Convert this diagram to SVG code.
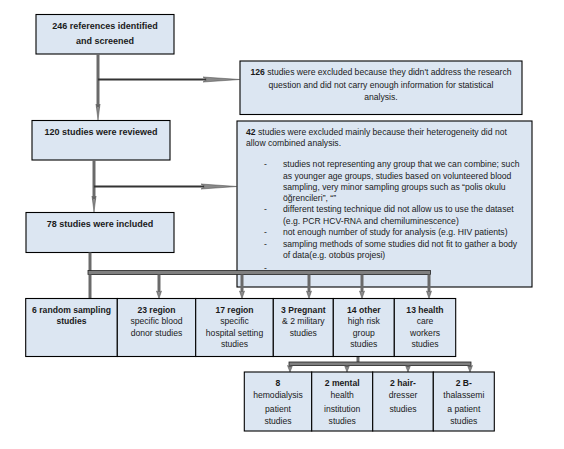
<svg xmlns="http://www.w3.org/2000/svg" width="564" height="449" viewBox="0 0 564 449">
<style>
.box{fill:#DCE6F2;stroke:#000;stroke-width:1.1}
.t{font-family:"Liberation Sans",Arial,sans-serif;font-size:8.6px;fill:#1a1a1a}
.c{text-anchor:middle}
.b{font-weight:bold}
.h{font-family:"Liberation Sans",Arial,sans-serif;font-size:9px;font-weight:bold;fill:#1a1a1a;text-anchor:middle}
.v{stroke:#6a6a6a;stroke-width:3;fill:none}
.hz{stroke:#333;stroke-width:2;fill:none}
.ah{fill:#8a8a8a;stroke:#444;stroke-width:0.5}
.bar{fill:#808080;stroke:#222;stroke-width:0.8}
</style>
<rect width="564" height="449" fill="#fff"/>
<g id="n1"><rect class="box" x="36" y="14.5" width="138" height="39.5"/>
<text class="h" x="105" y="28.5">246 references identified</text>
<text class="h" x="105" y="43.5">and screened</text></g>
<g id="n126"><rect class="box" x="240" y="61" width="282" height="53.5"/>
<text class="t c" x="381" y="75"><tspan class="b">126</tspan> studies were excluded because they didn't address the research</text>
<text class="t c" x="381" y="87.5">question and did not carry enough information for statistical</text>
<text class="t c" x="381" y="100">analysis.</text></g>
<g id="n120"><rect class="box" x="32" y="120.5" width="138" height="39.5"/>
<text class="h" x="101" y="135">120 studies were reviewed</text></g>
<g id="n42"><rect class="box" x="237" y="121" width="295" height="166"/>
<text class="t" x="246" y="135"><tspan class="b">42</tspan> studies were  excluded mainly because their heterogeneity did not</text>
<text class="t" x="246" y="145.5">allow combined analysis.</text>
<text class="t" x="264" y="167">-</text>
<text class="t" x="283" y="167">studies not representing any group that we can combine; such</text>
<text class="t" x="283" y="179">as younger age groups, studies based on volunteered blood</text>
<text class="t" x="283" y="190">sampling, very minor sampling groups such as “polis okulu</text>
<text class="t" x="283" y="201">öğrencileri”, “”</text>
<text class="t" x="264" y="212">-</text>
<text class="t" x="283" y="212">different testing technique did not allow us to use the dataset</text>
<text class="t" x="283" y="223.5">(e.g. PCR HCV-RNA and chemiluminescence)</text>
<text class="t" x="264" y="235">-</text>
<text class="t" x="283" y="235">not enough number of study for analysis (e.g. HIV patients)</text>
<text class="t" x="264" y="246.5">-</text>
<text class="t" x="283" y="246.5">sampling methods of some studies did not fit to gather a body</text>
<text class="t" x="283" y="258">of data(e.g. otobüs projesi)</text>
<text class="t" x="264" y="271">-</text></g>
<g id="n78"><rect class="box" x="26" y="212.5" width="148" height="40"/>
<text class="h" x="100" y="226.5">78 studies were included</text></g>
<g id="connectors">
<line class="v" x1="98" y1="54" x2="98" y2="108"/>
<polygon class="ah" points="98,120 96,104 98,107 100,104"/>
<line class="hz" x1="98" y1="79.5" x2="206" y2="79.5"/>
<polygon class="ah" points="240,79.5 203,77 207,79.5 203,82"/>
<line class="v" x1="94" y1="160" x2="94" y2="200"/>
<polygon class="ah" points="94,212 92,196 94,199 96,196"/>
<line class="hz" x1="94" y1="186.5" x2="204" y2="186.5"/>
<polygon class="ah" points="237,186.5 201,184 205,186.5 201,189"/>
<line class="v" x1="90" y1="252.5" x2="90" y2="271"/>
<rect class="bar" x="88" y="270.5" width="342.5" height="4"/>
<line class="v" x1="90" y1="274.5" x2="90" y2="298.5"/>
<line class="v" x1="159" y1="274.5" x2="159" y2="292"/>
<polygon class="ah" points="159,298.5 156.5,291 159,293 161.5,291"/>
<line class="v" x1="242" y1="274.5" x2="242" y2="292"/>
<polygon class="ah" points="242,298.5 239.5,291 242,293 244.5,291"/>
<line class="v" x1="309" y1="274.5" x2="309" y2="292"/>
<polygon class="ah" points="309,298.5 306.5,291 309,293 311.5,291"/>
<line class="v" x1="362" y1="274.5" x2="362" y2="292"/>
<polygon class="ah" points="362,298.5 359.5,291 362,293 364.5,291"/>
<line class="v" x1="429" y1="274.5" x2="429" y2="292"/>
<polygon class="ah" points="429,298.5 426.5,291 429,293 431.5,291"/>
<line class="v" x1="358" y1="356.5" x2="358" y2="362.5"/>
<rect class="bar" x="289" y="362" width="182" height="3.5"/>
<line class="v" x1="290" y1="365.5" x2="290" y2="367"/>
<polygon class="ah" points="290,372 287.5,365.5 290,367 292.5,365.5"/>
<line class="v" x1="347" y1="365.5" x2="347" y2="367"/>
<polygon class="ah" points="347,372 344.5,365.5 347,367 349.5,365.5"/>
<line class="v" x1="408" y1="365.5" x2="408" y2="367"/>
<polygon class="ah" points="408,372 405.5,365.5 408,367 410.5,365.5"/>
<line class="v" x1="470" y1="365.5" x2="470" y2="367"/>
<polygon class="ah" points="470,372 467.5,365.5 470,367 472.5,365.5"/>
</g>
<g id="r1"><rect class="box" x="25.7" y="298.5" width="91.6" height="58"/>
<text class="t c b" x="71.5" y="312.5">6 random sampling</text>
<text class="t c b" x="71.5" y="324">studies</text></g>
<g id="r2"><rect class="box" x="117.3" y="298.5" width="78.4" height="58"/>
<text class="t c b" x="156.5" y="312.5">23 region</text>
<text class="t c" x="156.5" y="324">specific blood</text>
<text class="t c" x="156.5" y="335.5">donor studies</text></g>
<g id="r3"><rect class="box" x="195.7" y="298.5" width="77.6" height="58"/>
<text class="t c b" x="234.5" y="312.5">17 region</text>
<text class="t c" x="234.5" y="324">specific</text>
<text class="t c" x="234.5" y="335.5">hospital setting</text>
<text class="t c" x="234.5" y="347">studies</text></g>
<g id="r4"><rect class="box" x="273.3" y="298.5" width="60" height="58"/>
<text class="t c b" x="303.3" y="312.5">3 Pregnant</text>
<text class="t c" x="303.3" y="324">&amp; 2 military</text>
<text class="t c" x="303.3" y="335.5">studies</text></g>
<g id="r5"><rect class="box" x="333.3" y="298.5" width="61" height="58"/>
<text class="t c b" x="363.8" y="312.5">14 other</text>
<text class="t c" x="363.8" y="324">high risk</text>
<text class="t c" x="363.8" y="335.5">group</text>
<text class="t c" x="363.8" y="347">studies</text></g>
<g id="r6"><rect class="box" x="394.3" y="298.5" width="61.4" height="58"/>
<text class="t c b" x="425" y="312.5">13 health</text>
<text class="t c" x="425" y="324">care</text>
<text class="t c" x="425" y="335.5">workers</text>
<text class="t c" x="425" y="347">studies</text></g>
<g id="s1"><rect class="box" x="244.3" y="372" width="67.4" height="59"/>
<text class="t c b" x="278" y="385.5">8</text>
<text class="t c" x="278" y="398">hemodialysis</text>
<text class="t c" x="278" y="411.5">patient</text>
<text class="t c" x="278" y="424">studies</text></g>
<g id="s2"><rect class="box" x="311.7" y="372" width="61" height="59"/>
<text class="t c b" x="342.2" y="385.5">2 mental</text>
<text class="t c" x="342.2" y="398">health</text>
<text class="t c" x="342.2" y="411.5">institution</text>
<text class="t c" x="342.2" y="424">studies</text></g>
<g id="s3"><rect class="box" x="372.7" y="372" width="60.6" height="59"/>
<text class="t c b" x="403" y="385.5">2 hair-</text>
<text class="t c" x="403" y="398">dresser</text>
<text class="t c" x="403" y="411.5">studies</text></g>
<g id="s4"><rect class="box" x="433.3" y="372" width="61" height="59"/>
<text class="t c b" x="463.8" y="385.5">2 B-</text>
<text class="t c" x="463.8" y="398">thalassemi</text>
<text class="t c" x="463.8" y="411.5">a patient</text>
<text class="t c" x="463.8" y="424">studies</text></g>
</svg>
